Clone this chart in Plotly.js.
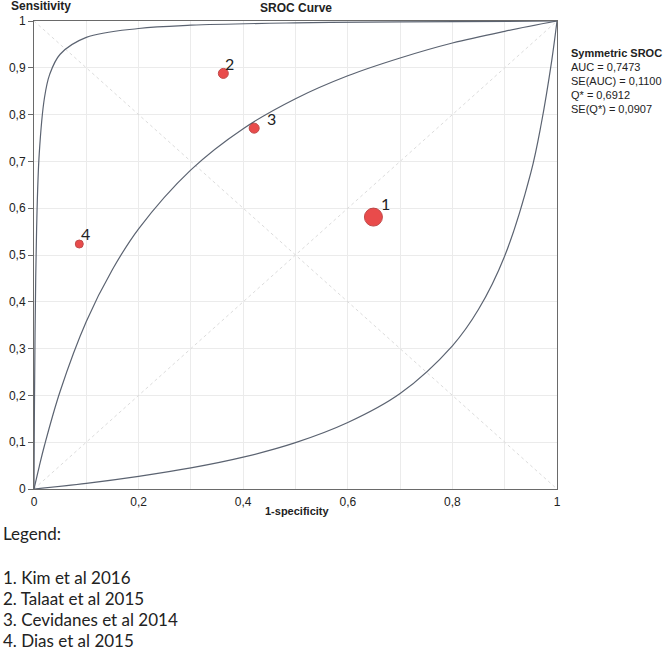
<!DOCTYPE html>
<html>
<head>
<meta charset="utf-8">
<script src="https://cdn.plot.ly/plotly-3.0.1.min.js"></script>
<style>
  body { margin: 0; background: #fff; }
  #chart { width: 669px; height: 654px; }
</style>
</head>
<body>
<div id="chart"></div>
<script>
// study points (1-specificity, sensitivity)
var studyFpr = [0.649, 0.362, 0.421, 0.0866];
var studyTpr = [0.581, 0.888, 0.771, 0.5235];
var studyLabels = ['1', '2', '3', '4'];
var studyWeights = [18, 10, 10, 8];

// symmetric SROC curve
var srocX = [0, 0.01, 0.02, 0.05, 0.1, 0.15, 0.2, 0.3, 0.4, 0.5, 0.6, 0.7, 0.8, 0.9, 1];
var srocY = [0, 0.048, 0.093, 0.209, 0.358, 0.469, 0.556, 0.682, 0.770, 0.834, 0.883, 0.921, 0.953, 0.978, 1];

// upper confidence curve
var upperX = [0, 0.0005, 0.001, 0.002, 0.005, 0.01, 0.02, 0.03, 0.05, 0.1, 0.2, 0.3, 0.5, 0.7, 1];
var upperY = [0, 0.111, 0.200, 0.334, 0.557, 0.716, 0.836, 0.886, 0.929, 0.965, 0.984, 0.991, 0.996, 0.998, 1];

// lower confidence curve
var lowerX = [0, 0.1, 0.2, 0.3, 0.4, 0.5, 0.6, 0.7, 0.8, 0.85, 0.9, 0.95, 0.97, 0.99, 1];
var lowerY = [0, 0.012, 0.027, 0.045, 0.068, 0.099, 0.142, 0.204, 0.306, 0.384, 0.498, 0.676, 0.781, 0.916, 1];

var statsLines = ['AUC = 0,7473', 'SE(AUC) = 0,1100', 'Q* = 0,6912', 'SE(Q*) = 0,0907'];
var legendLines = ['1. Kim et al 2016', '2. Talaat et al 2015', '3. Cevidanes et al 2014', '4. Dias et al 2015'];

var curveColor = '#5b6371';
var diagColor = '#dcdcdc';

// label nudges (px) for the study numbers, as placed in the original
var labelDx = [12, 6, 17, 6];
var labelDy = [14, 10, 10, 11];

var data = [
  {x: [0, 1], y: [0, 1], mode: 'lines', line: {color: diagColor, width: 1, dash: 'dot'}, hoverinfo: 'skip'},
  {x: [0, 1], y: [1, 0], mode: 'lines', line: {color: diagColor, width: 1, dash: 'dot'}, hoverinfo: 'skip'},
  {x: upperX, y: upperY, mode: 'lines', line: {color: curveColor, width: 1.2, shape: 'spline'}},
  {x: srocX, y: srocY, mode: 'lines', line: {color: curveColor, width: 1.2, shape: 'spline'}},
  {x: lowerX, y: lowerY, mode: 'lines', line: {color: curveColor, width: 1.2, shape: 'spline'}},
  {
    x: studyFpr, y: studyTpr, mode: 'markers',
    marker: {size: studyWeights, color: '#e00000', line: {color: '#a80000', width: 1}}
  }
];

// positions in paper units for a 523 x 468 plot area
function px2x(px) { return (px - 34) / 523; }
function px2y(py) { return (489 - py) / 468; }

var annotations = [
  {text: '<b>Sensitivity</b>', x: px2x(9), y: px2y(6), xanchor: 'left', yanchor: 'middle',
   font: {family: 'Liberation Sans', size: 12, color: '#222'}},
  {text: '<b>1-specificity</b>', x: px2x(297), y: px2y(511), xanchor: 'center', yanchor: 'middle',
   font: {family: 'Liberation Sans', size: 11, color: '#222'}},
  {text: '<b>Symmetric SROC</b>', x: px2x(569), y: px2y(53), xanchor: 'left', yanchor: 'middle',
   font: {family: 'Liberation Sans', size: 11, color: '#222'}},
  {text: 'Legend:', x: px2x(1), y: px2y(533), xanchor: 'left', yanchor: 'middle',
   font: {family: 'Lato', size: 17, color: '#222'}}
];
statsLines.forEach(function (t, i) {
  annotations.push({text: t, x: px2x(569), y: px2y(67 + i * 14), xanchor: 'left', yanchor: 'middle',
    font: {family: 'Liberation Sans', size: 11, color: '#222'}});
});
legendLines.forEach(function (t, i) {
  annotations.push({text: t, x: px2x(1), y: px2y(577 + i * 21), xanchor: 'left', yanchor: 'middle',
    font: {family: 'Lato', size: 17, color: '#222'}});
});
annotations.forEach(function (a) {
  a.xref = 'paper'; a.yref = 'paper'; a.showarrow = false;
});
// study number labels next to their points
studyLabels.forEach(function (t, i) {
  annotations.push({text: t, x: studyFpr[i], y: studyTpr[i], xref: 'x', yref: 'y',
    showarrow: false, xanchor: 'center', yanchor: 'middle',
    xshift: labelDx[i], yshift: labelDy[i],
    font: {family: 'Lato', size: 16, color: '#222'}});
});

var layout = {
  width: 669,
  height: 654,
  margin: {l: 34, r: 112, t: 21, b: 165},
  showlegend: false,
  separators: ', ',
  paper_bgcolor: '#fff',
  plot_bgcolor: '#fff',
  font: {family: 'Liberation Sans', size: 12, color: '#222'},
  title: {
    text: '<b>SROC Curve</b>',
    x: px2x(296), xref: 'paper', xanchor: 'center',
    y: 1 - 8 / 654, yanchor: 'middle',
    font: {family: 'Liberation Sans', size: 12, color: '#222'}
  },
  xaxis: {
    range: [0, 1], dtick: 0.2, tick0: 0,
    showgrid: true, gridcolor: '#ebebeb', gridwidth: 1,
    minor: {dtick: 0.1, showgrid: true, gridcolor: '#ebebeb'},
    zeroline: false, showline: true, linecolor: '#6a6a6a', linewidth: 1, mirror: true,
    ticks: '', ticklabelstandoff: 2,
    tickfont: {family: 'Liberation Sans', size: 12, color: '#222'},
    fixedrange: true
  },
  yaxis: {
    range: [0, 1], dtick: 0.1, tick0: 0,
    showgrid: true, gridcolor: '#ebebeb', gridwidth: 1,
    zeroline: false, showline: true, linecolor: '#6a6a6a', linewidth: 1, mirror: true,
    ticks: 'outside', ticklen: 5, tickcolor: '#6a6a6a',
    tickfont: {family: 'Liberation Sans', size: 12, color: '#222'},
    fixedrange: true
  },
  annotations: annotations
};

Plotly.newPlot('chart', data, layout, {displayModeBar: false, staticPlot: true});
</script>
</body>
</html>
